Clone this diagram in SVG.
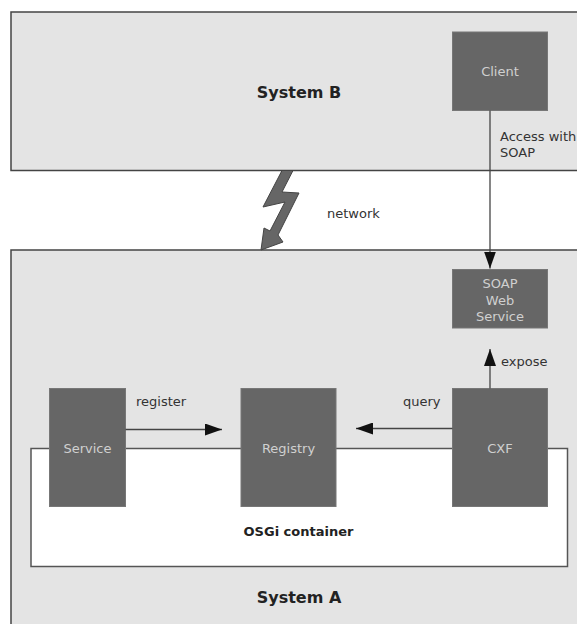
<svg xmlns="http://www.w3.org/2000/svg" width="577" height="624" viewBox="0 0 577 624">
  <style>
    .system { fill: #e4e4e4; stroke: #444; stroke-width: 1.5; }
    .container { fill: #ffffff; stroke: #555; stroke-width: 1.5; }
    .node { fill: #666666; stroke: #777; stroke-width: 1; }
    .node-text { font-family: "DejaVu Sans", sans-serif; font-size: 13px; fill: #d0d0d0; text-anchor: middle; }
    .title { font-family: "DejaVu Sans", sans-serif; font-size: 16px; font-weight: bold; fill: #222; text-anchor: middle; }
    .subtitle { font-family: "DejaVu Sans", sans-serif; font-size: 13px; font-weight: bold; fill: #222; text-anchor: middle; }
    .label { font-family: "DejaVu Sans", sans-serif; font-size: 13px; fill: #333; }
    .edge { stroke: #444; stroke-width: 1.3; fill: none; marker-end: url(#arrow); }
  </style>
  <defs>
    <marker id="arrow" markerUnits="userSpaceOnUse" viewBox="0 0 17 12" refX="17" refY="6" markerWidth="17" markerHeight="12" orient="auto">
      <path d="M0,0 L17,6 L0,12 z" fill="#111"/>
    </marker>
  </defs>

  <!-- System B (remote side) -->
  <g id="system-b">
    <rect class="system" x="11" y="12" width="580" height="158.5"/>
    <text class="title" x="299" y="98">System B</text>
  </g>

  <!-- System A (local side) -->
  <g id="system-a">
    <rect class="system" x="11" y="250" width="580" height="390"/>
    <text class="title" x="299" y="603">System A</text>
  </g>

  <!-- OSGi container -->
  <g id="osgi-container">
    <rect class="container" x="31" y="448.5" width="536.5" height="118"/>
    <text class="subtitle" x="298.5" y="536">OSGi container</text>
  </g>

  <!-- network link between the two systems -->
  <g id="network">
    <polygon points="282,170.5 293,170.5 282,192 299,193 278,235 283,242 261,250 264,228 270,231 285,202 263,207" fill="#666" stroke="#444" stroke-width="1"/>
    <text class="label" x="327" y="218">network</text>
  </g>

  <g id="client">
    <rect class="node" x="452.5" y="32" width="95" height="78.5"/>
    <text class="node-text" x="500" y="76">Client</text>
  </g>

  <g id="soap-web-service">
    <rect class="node" x="452.5" y="269.5" width="95" height="58.5"/>
    <text class="node-text" x="500" y="288">SOAP</text>
    <text class="node-text" x="500" y="305">Web</text>
    <text class="node-text" x="500" y="320.5">Service</text>
  </g>

  <g id="service">
    <rect class="node" x="49.5" y="388.5" width="76" height="118"/>
    <text class="node-text" x="87.5" y="452.5">Service</text>
  </g>

  <g id="registry">
    <rect class="node" x="241" y="388.5" width="95" height="118"/>
    <text class="node-text" x="288.5" y="452.5">Registry</text>
  </g>

  <g id="cxf">
    <rect class="node" x="452.5" y="388.5" width="95" height="118"/>
    <text class="node-text" x="500" y="452.5">CXF</text>
  </g>

  <!-- connectors -->
  <g id="connectors">
    <line class="edge" x1="490" y1="110.5" x2="490" y2="268.5"/>
    <line class="edge" x1="490" y1="388.5" x2="490" y2="349"/>
    <line class="edge" x1="125.5" y1="429.5" x2="222" y2="429.5"/>
    <line class="edge" x1="452.5" y1="428.5" x2="356" y2="428.5"/>
    <text class="label" x="500" y="141">Access with</text>
    <text class="label" x="500" y="157">SOAP</text>
    <text class="label" x="501" y="366">expose</text>
    <text class="label" x="136" y="405.5">register</text>
    <text class="label" x="403" y="405.5">query</text>
  </g>
</svg>
